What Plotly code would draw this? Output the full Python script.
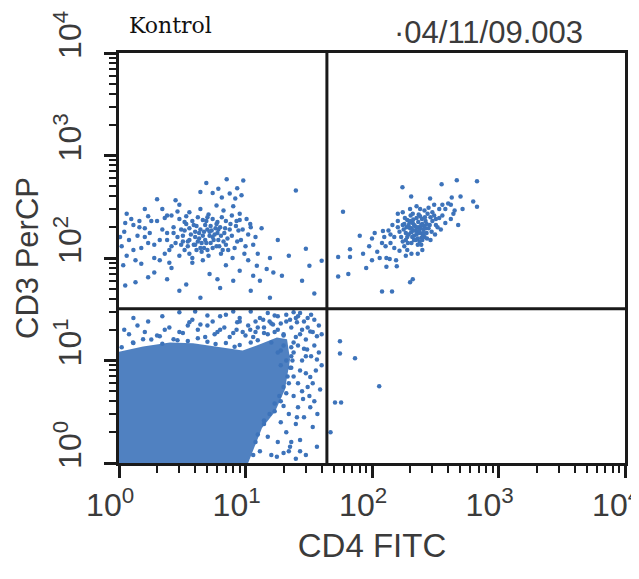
import plotly.graph_objects as go

# ---------------- data (fluorescence values) ----------------
# CD3+ CD4- population (upper-left quadrant)
ul_points = [
    (2.1,150),(2.4,175),(2.6,130),(2.9,160),(3.1,190),(3.3,120),(3.5,145),(3.7,170),(3.9,135),(4.1,205),
    (4.3,155),(4.5,115),(4.7,180),(4.9,140),(5.2,165),(5.5,125),(5.8,195),(6.1,150),(6.4,110),(6.8,175),
    (7.0,135),(2.3,110),(2.7,200),(3.0,105),(3.4,215),(3.8,100),(4.0,180),(4.4,125),(4.8,210),(5.1,105),
    (5.4,185),(5.9,130),(6.3,200),(6.6,120),(2.2,190),(2.8,140),(3.2,165),(3.6,110),(4.2,145),(4.6,165),
    (5.0,190),(5.6,150),(6.0,175),(7.2,155),(7.5,190),(3.3,185),(2.5,120),(4.1,120),(5.3,140),(6.7,145),
    (2.0,230),(2.3,245),(2.6,260),(3.0,240),(3.4,255),(3.8,230),(4.2,250),(4.6,235),(5.1,265),(5.5,240),
    (6.0,225),(6.5,250),(7.0,230),(7.6,215),(8.4,205),(9.5,190),(2.1,95),(2.5,90),(3.1,135),(3.6,195),
    (4.0,160),(4.4,190),(4.8,150),(5.3,205),(5.7,170),(6.2,130),(6.9,195),(7.3,120),(7.8,165),(8.6,145),
    (1.3,120),(1.6,160),(1.9,135),(1.45,230),(1.15,270),(1.7,255),(2.2,300),(2.9,285),(3.3,225),(3.9,210),
    (4.5,140),(5.0,120),(5.9,215),(6.4,165),(3.6,150),(4.3,175),(4.0,135),(5.2,180),(4.7,125),(3.2,145),
    (2.7,175),(2.4,150),(6.1,190),(5.5,160),(4.9,230),(3.5,130),(9.0,235),(10.0,130),(11.0,200),(12.5,110),
    (1.05,130),(1.1,180),(1.15,105),(1.2,150),(1.3,210),(1.35,95),(1.4,165),(1.5,125),(1.6,195),(1.08,85),
    (1.25,240),(1.45,200),(1.7,140),(1.8,230),(1.9,100),(1.75,175),(1.02,160),(1.12,220),
    (4.9,540),(7.1,585),(9.6,570),(4.4,440),(6.1,475),(7.5,425),(8.3,380),(9.3,410),(2.0,375),(2.8,365),
    (4.4,300),(5.9,325),(6.7,290),(3.6,280),(8.0,320),(2.4,260),(1.6,300),(5.0,250),(7.8,260),(9.0,270),
    (3.0,330),(6.5,390),(8.6,480),(5.5,430),
    (10.2,240),(10.9,215),(13.4,195),(8.5,230),(9.2,150),(8.8,185),(10.5,170),(11.5,135),(9.8,110),(8.2,125),
    (12.0,160),(7.9,100),
    (15.6,100),(14.7,78),(16.6,72),(19.4,67),(12.3,84),(11.5,67),(13.0,60),(15.6,41),(6.3,51),(4.4,41),
    (3.4,55),(2.4,62),(1.7,65),(1.35,58),(1.12,54),(9.0,75),(7.0,85),(5.2,70),(3.8,90),(2.6,80),
    (1.9,72),(8.0,60),(10.5,95),(4.6,95),(6.0,62),(1.5,88),(3.0,48),(11.0,48),
    (25,455),(30,123),(32,84),(40,94),(28,60),(22,105),(35,45),(18,150),
]

# CD3+ CD4+ population (upper-right quadrant)
ur_points = [
    (165,180),(175,210),(185,150),(190,235),(195,170),(200,195),(205,140),(210,220),(215,165),(220,185),
    (225,245),(230,155),(235,200),(240,175),(245,135),(250,215),(255,190),(260,160),(265,230),(270,175),
    (180,130),(188,200),(198,225),(208,160),(218,205),(228,175),(238,145),(248,240),(258,205),(272,155),
    (170,160),(182,245),(192,140),(202,260),(212,185),(222,150),(232,225),(242,195),(252,170),(262,250),
    (286,210),(296,180),(178,190),(212,238),(246,158),(226,200),(204,178),(234,265),(190,120),(275,270),
    (185,175),(195,210),(205,195),(215,150),(225,170),(235,185),(245,210),(255,175),(265,195),(215,210),
    (200,230),(190,160),(175,145),(230,135),(250,150),(280,195),(300,230),(320,210),(340,245),(270,215),
    (240,255),(210,270),(180,215),(160,200),(150,160),(140,140),(128,130),(115,100),(100,95),(90,80),
    (85,110),(160,230),(380,300),(420,330),(440,270),(360,330),(250,120),(230,110),(290,250),(310,260),
    (120,140),(130,100),(140,170),(150,125),(155,95),(145,210),(135,185),(125,160),(300,280),(320,240),
    (340,300),(360,260),(380,220),(310,330),(280,310),(330,200),(350,190),(290,150),(315,170),(260,290),
    (240,300),(200,300),(225,320),(160,270),(175,280),(165,118),(185,105),(205,110),
    (174,490),(355,525),(468,575),(676,562),(204,398),(288,380),(427,389),(501,398),(631,355),(676,316),
    (59,282),(400,340),(450,290),(520,300),(420,240),(480,210),
    (54,102),(67,122),(67,102),(65,70),(54,66),(80,165),(100,155),(122,183),(138,98),(130,82),
    (157,83),(200,58),(210,62),(120,47),(144,47),(110,115),(95,130),(105,175),
]

# CD3- CD4+ events (lower-right quadrant)
lr_points = [(55.8,15.4),(55.8,11.7),(73.4,10.5),(114,5.6),(51,3.9),(57,3.9),(47,2.0)]

# CD3- CD4- population (lower-left quadrant): outline of the saturated dense core
ll_core_x = [1, 1, 1.55, 2.53, 3.85, 6.3, 9.5, 13.0, 17.7, 21.3, 22.5, 20.5, 17.1, 13.5, 11.9, 10.5]
ll_core_y = [1, 12.2, 13.7, 15.0, 14.7, 13.4, 12.5, 14.4, 16.8, 16.1, 10.2, 5.2, 3.16, 2.2, 1.5, 1]

# CD3- CD4- individual events around the dense core
ll_points = [
    (3.0,29.5),(3.6,23.6),(4.4,22.5),(6.3,27),(6.3,20),(8.6,23.6),(10.9,20),(13.8,25),(16.5,22.5),(22.5,25),
    (25.5,23.6),(32.5,19.2),(36.7,17.2),(30.7,12.8),(36.7,10.2),(32.5,6.9),(38.9,5.2),(28.5,4.2),(32.5,3.5),
    (25.5,2.8),(34,2.25),(27,1.68),(22.5,1.44),(36.7,1.44),(17.7,1.15),(1.29,15),(1.55,16.1),(2.1,17.2),(2.7,16.1),
    (18,20),(20,14),(23,11),(25,17),(27,8),(29,13),(31,21),(19,9),(22,6),(24,4.5),(26,6),(28,10),(30,7.5),
    (33,11),(35,14),(21,24),(26,27),(24,15),(19,12.5),(23,8.5),(28,5),(32,4.5),(36,8),(38,12),(20,18),(30,16),
    (34,19),(16,23),(18,27),(14,21),(12,19),(10,17.5),(8,18.5),(6,19),(4.8,17),(3.2,18.5),(2.3,20),(1.6,19),
    (1.2,18),(13,26),(9,24),(5.5,24),(3.8,25),(17,3.2),(19,2.5),(21,2.0),(23,1.6),(20,3.6),(15,1.8),(14,2.6),
    (13,1.3),(16,1.2),(12,1.6),(22,1.3),(25,2.4),(18,1.6),(4,30),(7,28),(11,30),(15,29),(9,26),
    (1.05,13.5),(1.3,14.8),(1.8,16),(2.2,14.6),(2.9,15.8),(3.5,15.5),(4.2,16.5),(5,15.2),(5.8,14.5),(7,14.8),
    (8.2,13.6),(9,14.2),(11,15),(12.5,15.8),(15,18),(17,19),(20,17.5),
    (11.5,1.2),(12.5,1.9),(14,2.4),(15.5,3),(17,3.8),(18.5,4.5),(20,5.5),(21.5,7),(22.5,8.5),(23.5,10),(24,12),
    (1.1,20),(1.4,22),(1.7,24),(2.0,17.5),(2.5,21),(3.0,19),(3.5,22),(4.2,20),(5.0,22),(5.7,18),
    (6.8,21),(7.5,17),(8.5,20),(9.5,19),(10.5,22),(11.5,17),(12.5,21),(14,18.5),(15.5,24),(17,27.5),
    (19,23),(21,28),(23,21),(25,26),(27,18),(29,24),(31,26),(27,29),(24,29.5),(1.3,26),
    (2.2,27),(5,27.5),(8,30),(12,24),(16,15),(18,12),(21,10),(24,7),(26,3.5),(29,2.8),
    (31,5.5),(34,6),(37,3),(40,9),(40,18),(38,22),(35,25),(33,28),(30,1.2),(27,1.3),
    (25,1.1),(20,1.25),(19,4),(22,3.0),(21,4.8),(23,13.5),(26,14),(28,20),(30,11),(35,4),
]

# quadrant gate positions
gate_x = 44
gate_y = 32

decades = [1, 10, 100, 1000, 10000]
exponents = ["0", "1", "2", "3", "4"]
minor_vals = [m * d for d in [1, 10, 100, 1000] for m in range(2, 10)]

NB = "\u00a0"
x_tick_labels = ["10<sup>%s</sup>%s" % (e, NB * 2) for e in exponents]
y_tick_labels = ["%s10<sup>%s</sup>" % (NB * 3, e) for e in exponents]

dot_color = "#3d73ba"
ink = "#1a1a1a"
label_color = "#3b3b3b"

fig = go.Figure()

fig.add_trace(go.Scatter(
    x=ll_core_x, y=ll_core_y, mode="lines", fill="toself",
    fillcolor="rgba(61,115,186,0.9)", line=dict(width=0, color=dot_color),
    hoverinfo="skip", showlegend=False))

for pts in (ll_points, ul_points, ur_points, lr_points):
    fig.add_trace(go.Scatter(
        x=[p[0] for p in pts], y=[p[1] for p in pts], mode="markers",
        marker=dict(size=4.5, color=dot_color, line=dict(width=0)),
        showlegend=False))

# gate lines
fig.add_trace(go.Scatter(x=[gate_x, gate_x], y=[1, 10000], mode="lines",
                         line=dict(color=ink, width=3), showlegend=False, hoverinfo="skip"))
fig.add_trace(go.Scatter(x=[1, 10000], y=[gate_y, gate_y], mode="lines",
                         line=dict(color=ink, width=3), showlegend=False, hoverinfo="skip"))

axis_common = dict(
    type="log", range=[0, 4], showgrid=False, zeroline=False,
    showline=True, linecolor=ink, linewidth=3, mirror=True,
    ticks="outside", ticklen=12, tickwidth=3, tickcolor=ink,
    tickmode="array", tickvals=decades,
    tickfont=dict(family="Liberation Sans", size=32, color=label_color),
    ticklabeloverflow="allow",
    minor=dict(ticks="outside", ticklen=7, tickwidth=2, tickcolor=ink,
               tickmode="array", tickvals=minor_vals, showgrid=False),
)

fig.update_layout(
    width=639, height=579,
    margin=dict(l=111, r=22, t=45, b=124, autoexpand=False),
    paper_bgcolor="white", plot_bgcolor="white",
    xaxis=dict(**axis_common, ticktext=x_tick_labels,
               title=dict(text="CD4 FITC", standoff=12,
                          font=dict(family="Liberation Sans", size=33, color=label_color))),
    yaxis=dict(**axis_common, ticktext=y_tick_labels, tickangle=-90, ticklabelstandoff=10,
               title=dict(text="CD3 PerCP", standoff=0,
                          font=dict(family="Liberation Sans", size=31, color=label_color))),
    annotations=[
        dict(text="Kontrol", xref="paper", yref="paper", x=0.016, y=1.0, yshift=28,
             xanchor="left", yanchor="middle", showarrow=False,
             font=dict(family="DejaVu Serif", size=22, color="#111111")),
        dict(text="·04/11/09.003", xref="paper", yref="paper", x=0.921, y=1.0, yshift=21,
             xanchor="right", yanchor="middle", showarrow=False,
             font=dict(family="Liberation Sans", size=31, color=label_color)),
    ],
)

fig.write_html("out.html")
